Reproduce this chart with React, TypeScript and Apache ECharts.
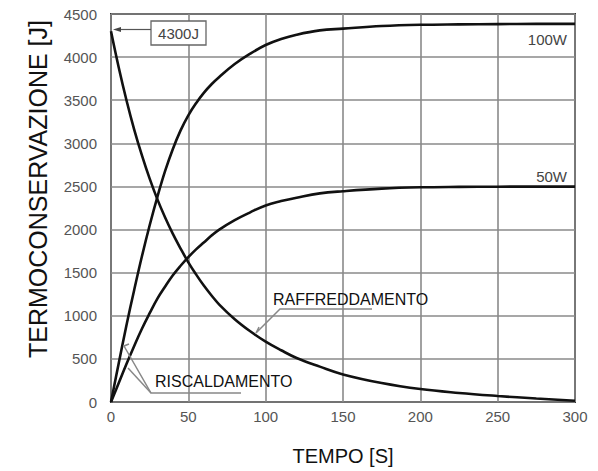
import React, { useEffect, useRef } from "react";
import * as echarts from "echarts";

// Tempo [s]
const tempo = [0, 5, 10, 15, 20, 25, 30, 35, 40, 45, 50, 55, 60, 65, 70, 80, 90, 100, 110, 120, 135, 150, 175, 200, 225, 250, 275, 300];
// Riscaldamento 100W [J]
const riscaldamento100W = [0, 450, 890, 1300, 1690, 2050, 2380, 2680, 2935, 3150, 3325, 3465, 3585, 3685, 3770, 3920, 4040, 4140, 4210, 4260, 4310, 4330, 4360, 4375, 4380, 4383, 4385, 4385];
// Riscaldamento 50W [J]
const riscaldamento50W = [0, 220, 440, 650, 850, 1030, 1200, 1340, 1470, 1580, 1680, 1770, 1850, 1930, 2000, 2110, 2200, 2280, 2330, 2370, 2420, 2445, 2475, 2490, 2495, 2497, 2498, 2498];
// Raffreddamento [J]
const raffreddamento = [4300, 3880, 3500, 3160, 2860, 2590, 2350, 2140, 1950, 1780, 1620, 1480, 1350, 1235, 1130, 960, 820, 700, 600, 510, 410, 320, 220, 150, 105, 70, 40, 15];

const xTicks = { min: 0, max: 300, interval: 50 };
const yTicks = { min: 0, max: 4500, interval: 500 };

const FONT = "'Liberation Sans', Arial, sans-serif";

export default function App() {
  const ref = useRef<HTMLDivElement>(null);
  useEffect(() => {
    if (!ref.current) return;
    const chart = echarts.init(ref.current, undefined, { renderer: "svg" });
    const pairs = (ys: number[]) => tempo.map((t, i) => [t, ys[i]]);
    const lineSeries = (name: string, ys: number[]) => ({
      name,
      type: "line",
      data: pairs(ys),
      showSymbol: false,
      smooth: 0.4,
      lineStyle: { color: "#111", width: 2.6 },
      z: 5,
    });
    const gray = "#8a8a8a";
    const plain = (v: number) => String(v);
    chart.setOption({
      animation: false,
      backgroundColor: "#fff",
      grid: {
        left: 111,
        right: 23,
        top: 14,
        bottom: 66,
        show: true,
        borderColor: "#333",
        borderWidth: 2,
      },
      xAxis: {
        type: "value",
        ...xTicks,
        name: "TEMPO [S]",
        nameLocation: "middle",
        nameGap: 44,
        nameTextStyle: { fontSize: 20, color: "#111", fontFamily: FONT },
        axisLine: { show: false },
        axisTick: { show: false },
        axisLabel: { fontSize: 15, color: "#555", fontFamily: FONT, margin: 7, formatter: plain },
        splitLine: { show: true, lineStyle: { color: gray, width: 1.6 } },
      },
      yAxis: {
        type: "value",
        ...yTicks,
        axisLine: { show: false },
        axisTick: { show: false },
        axisLabel: { fontSize: 15, color: "#555", fontFamily: FONT, margin: 14, formatter: plain },
        splitLine: { show: true, lineStyle: { color: gray, width: 1.6 } },
      },
      series: [
        lineSeries("100W", riscaldamento100W),
        lineSeries("50W", riscaldamento50W),
        lineSeries("Raffreddamento", raffreddamento),
      ],
      graphic: [
        {
          type: "text",
          x: 38,
          y: 189,
          rotation: Math.PI / 2,
          style: {
            text: "TERMOCONSERVAZIONE [J]",
            font: `25px ${FONT}`,
            fill: "#111",
            align: "center",
            verticalAlign: "middle",
          },
        },
        // 4300J box
        {
          type: "rect",
          shape: { x: 151, y: 21, width: 55, height: 24 },
          style: { fill: "#fff", stroke: "#666", lineWidth: 1.3 },
          z: 10,
        },
        {
          type: "text",
          x: 178.5,
          y: 33,
          style: { text: "4300J", font: `15px ${FONT}`, fill: "#444", align: "center", verticalAlign: "middle" },
          z: 11,
        },
        {
          type: "line",
          shape: { x1: 119, y1: 29.5, x2: 151, y2: 29.5 },
          style: { stroke: "#555", lineWidth: 1.2 },
          z: 10,
        },
        {
          type: "polygon",
          shape: { points: [[113, 29.5], [121, 27], [121, 32]] },
          style: { fill: "#444" },
          z: 10,
        },
        {
          type: "text",
          x: 567,
          y: 39,
          style: { text: "100W", font: `15px ${FONT}`, fill: "#444", align: "right", verticalAlign: "middle" },
          z: 10,
        },
        {
          type: "text",
          x: 567,
          y: 176,
          style: { text: "50W", font: `15px ${FONT}`, fill: "#444", align: "right", verticalAlign: "middle" },
          z: 10,
        },
        // Raffreddamento label
        {
          type: "text",
          x: 273,
          y: 299,
          style: { text: "RAFFREDDAMENTO", font: `16px ${FONT}`, fill: "#111", align: "left", verticalAlign: "middle" },
          z: 10,
        },
        {
          type: "polyline",
          shape: { points: [[372, 309], [280, 309], [256, 333], [259, 327]] },
          style: { stroke: "#888", lineWidth: 1.5, fill: "none" },
          z: 10,
        },
        // Riscaldamento label
        {
          type: "text",
          x: 155,
          y: 381,
          style: { text: "RISCALDAMENTO", font: `16px ${FONT}`, fill: "#111", align: "left", verticalAlign: "middle" },
          z: 10,
        },
        {
          type: "polyline",
          shape: { points: [[241, 393], [151, 393], [124, 346], [129, 344]] },
          style: { stroke: "#888", lineWidth: 1.5, fill: "none" },
          z: 10,
        },
        {
          type: "polyline",
          shape: { points: [[151, 393], [128, 368]] },
          style: { stroke: "#888", lineWidth: 1.5, fill: "none" },
          z: 10,
        },
      ],
    });
    return () => chart.dispose();
  }, []);
  return (
    <div
      ref={ref}
      style={{ position: "fixed", left: 0, top: 0, width: 598, height: 471, background: "#fff" }}
    />
  );
}
